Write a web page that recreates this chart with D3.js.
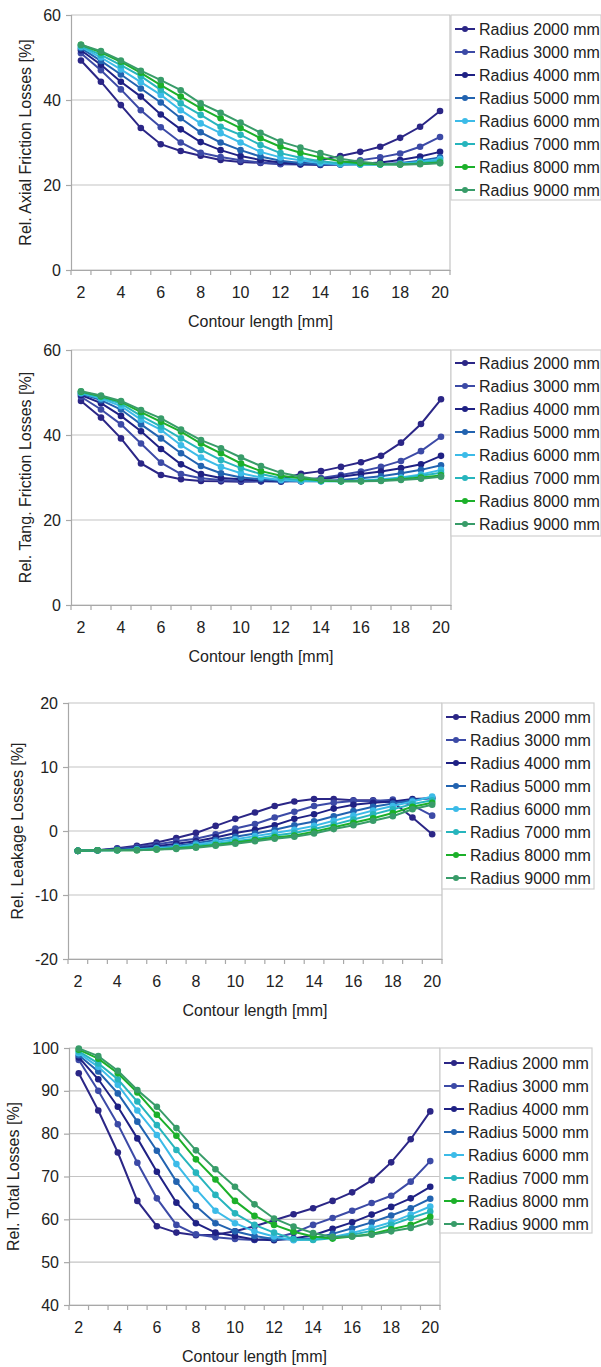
<!DOCTYPE html>
<html>
<head>
<meta charset="utf-8">
<script src="https://cdn.jsdelivr.net/npm/d3@7"></script>
<style>
  body { margin: 0; background: #fff; }
  svg { display: block; font-family: "Liberation Sans", Arial, sans-serif; }
  .tick text { font-size: 16px; fill: #222; }
  .axis-label { font-size: 16px; fill: #222; }
  .legend text { font-size: 16px; fill: #222; }
</style>
</head>
<body>
<svg width="601" height="1367"></svg>
<script>
// contour length [mm] categories
const contourLengths = [2, 3, 4, 5, 6, 7, 8, 9, 10, 11, 12, 13, 14, 15, 16, 17, 18, 19, 20]
const radii = ['Radius 2000 mm', 'Radius 3000 mm', 'Radius 4000 mm', 'Radius 5000 mm',
  'Radius 6000 mm', 'Radius 7000 mm', 'Radius 8000 mm', 'Radius 9000 mm']
const colors = ['#2b2686', '#3c4aa6', '#1f2184', '#2263b0', '#3cbbe8', '#27b5bd', '#1cb02a', '#389c69']

// one row per radius
const axialFriction = [
  [49.3, 44.3, 38.8, 33.4, 29.6, 28.0, 26.9, 25.9, 25.4, 25.2, 25.0, 25.3, 25.8, 26.8, 27.8, 29.0, 31.1, 33.7, 37.4],
  [51.0, 47.0, 42.5, 37.6, 33.6, 30.0, 27.6, 26.6, 25.8, 25.3, 24.9, 24.8, 24.9, 25.2, 25.8, 26.5, 27.4, 29.0, 31.3],
  [51.7, 48.3, 44.3, 40.8, 36.6, 33.1, 30.1, 28.2, 26.8, 25.9, 25.3, 24.9, 24.7, 24.8, 25.0, 25.3, 25.9, 26.7, 27.8],
  [52.2, 49.2, 46.0, 42.7, 39.4, 35.7, 32.4, 30.0, 28.2, 26.7, 25.7, 25.2, 24.9, 24.8, 24.8, 24.9, 25.2, 25.7, 26.5],
  [52.5, 50.0, 47.2, 44.2, 41.2, 37.6, 34.5, 32.2, 30.0, 27.8, 26.5, 25.8, 25.2, 24.9, 24.8, 24.8, 25.0, 25.4, 26.1],
  [52.7, 50.6, 48.2, 45.6, 42.4, 39.2, 36.5, 33.7, 31.8, 29.4, 27.5, 26.4, 25.6, 25.1, 24.9, 24.8, 24.9, 25.2, 25.7],
  [53.0, 51.2, 49.0, 46.4, 43.5, 40.8, 38.1, 35.7, 33.4, 31.0, 29.0, 27.6, 26.5, 25.6, 25.1, 24.9, 24.8, 25.0, 25.3],
  [53.0, 51.5, 49.3, 46.9, 44.7, 42.3, 39.2, 37.0, 34.7, 32.3, 30.2, 28.8, 27.5, 26.2, 25.5, 25.0, 24.8, 24.9, 25.1]
]
const tangFriction = [
  [48.0, 44.1, 39.2, 33.3, 30.6, 29.6, 29.2, 29.1, 29.0, 29.1, 29.6, 30.9, 31.5, 32.5, 33.6, 35.1, 38.2, 42.6, 48.4],
  [49.0, 46.0, 42.5, 38.0, 33.5, 30.8, 29.8, 29.4, 29.2, 29.1, 29.0, 29.4, 29.9, 30.6, 31.4, 32.5, 33.9, 36.2, 39.6],
  [49.4, 47.5, 44.5, 40.9, 36.7, 33.1, 30.8, 29.9, 29.6, 29.3, 29.1, 29.1, 29.6, 30.2, 30.8, 31.4, 32.2, 33.1, 35.1],
  [49.7, 48.2, 46.0, 42.5, 39.2, 35.7, 32.7, 31.0, 30.0, 29.6, 29.2, 29.1, 29.1, 29.4, 29.8, 30.3, 31.0, 31.8, 32.9],
  [49.9, 48.6, 46.8, 43.6, 41.2, 37.6, 34.7, 32.5, 31.0, 30.0, 29.4, 29.2, 29.1, 29.1, 29.3, 29.6, 30.0, 30.7, 31.8],
  [50.0, 48.9, 47.4, 44.5, 42.0, 39.2, 36.5, 34.1, 32.2, 30.8, 29.8, 29.4, 29.2, 29.1, 29.2, 29.4, 29.8, 30.4, 31.1],
  [50.2, 49.1, 47.8, 45.4, 43.1, 40.8, 38.0, 35.7, 33.3, 31.5, 30.4, 29.8, 29.3, 29.1, 29.1, 29.3, 29.6, 30.0, 30.5],
  [50.3, 49.3, 48.0, 45.9, 43.9, 41.3, 38.8, 36.9, 34.7, 32.7, 31.1, 30.2, 29.5, 29.2, 29.1, 29.2, 29.4, 29.7, 30.2]
]
const leakage = [
  [-3.1, -3.0, -2.7, -2.3, -1.8, -1.1, -0.3, 0.8, 1.9, 2.9, 3.9, 4.6, 5.0, 5.0, 4.8, 4.8, 4.5, 2.1, -0.5],
  [-3.1, -3.0, -2.8, -2.5, -2.1, -1.6, -1.2, -0.5, 0.4, 1.1, 2.1, 3.0, 3.9, 4.4, 4.7, 4.7, 4.9, 4.0, 2.4],
  [-3.1, -3.0, -2.9, -2.7, -2.4, -2.0, -1.6, -1.0, -0.3, 0.2, 0.9, 1.9, 2.6, 3.5, 4.1, 4.4, 4.6, 5.0, 5.1],
  [-3.1, -3.0, -2.9, -2.8, -2.6, -2.3, -1.9, -1.4, -0.9, -0.4, 0.2, 0.9, 1.5, 2.3, 3.1, 3.8, 4.3, 4.8, 5.2],
  [-3.1, -3.0, -3.0, -2.9, -2.7, -2.5, -2.1, -1.7, -1.3, -0.8, -0.3, 0.2, 0.8, 1.6, 2.4, 3.2, 3.9, 4.6, 5.4],
  [-3.1, -3.0, -3.0, -2.9, -2.8, -2.6, -2.3, -2.0, -1.6, -1.2, -0.7, -0.3, 0.3, 1.0, 1.8, 2.6, 3.4, 4.2, 4.8],
  [-3.1, -3.0, -3.0, -3.0, -2.9, -2.7, -2.5, -2.2, -1.8, -1.4, -1.0, -0.7, -0.1, 0.6, 1.3, 2.0, 2.8, 3.8, 4.4],
  [-3.1, -3.0, -3.0, -3.0, -2.9, -2.8, -2.6, -2.3, -2.0, -1.6, -1.2, -0.9, -0.4, 0.3, 0.9, 1.6, 2.3, 3.4, 4.1]
]
const totalLosses = [
  [94.1, 85.4, 75.6, 64.3, 58.4, 56.9, 56.3, 56.4, 57.2, 58.4, 59.8, 61.2, 62.6, 64.3, 66.3, 69.1, 73.3, 78.7, 85.2],
  [97.2, 90.0, 82.2, 73.2, 64.9, 58.7, 56.5, 55.8, 55.4, 55.2, 55.6, 56.8, 58.7, 60.3, 62.0, 63.8, 65.5, 68.8, 73.6],
  [97.8, 92.7, 86.3, 78.9, 71.1, 63.9, 59.1, 56.9, 56.1, 55.3, 55.1, 55.5, 56.3, 57.8, 59.3, 61.1, 62.9, 64.9, 67.6],
  [98.3, 94.5, 89.4, 82.8, 76.0, 68.8, 63.1, 59.1, 57.2, 56.1, 55.4, 55.3, 55.6, 56.6, 57.9, 59.3, 60.9, 62.6, 64.8],
  [98.8, 95.6, 91.4, 85.4, 79.7, 72.9, 67.1, 62.0, 59.1, 57.2, 56.0, 55.1, 55.3, 55.9, 56.8, 58.0, 59.3, 61.1, 63.0],
  [99.2, 96.4, 92.7, 87.5, 82.0, 76.2, 70.9, 65.7, 61.4, 58.7, 56.9, 55.4, 55.2, 55.6, 56.4, 57.3, 58.7, 60.3, 61.8],
  [99.6, 97.5, 94.1, 89.6, 84.4, 79.5, 74.0, 69.3, 64.3, 60.8, 58.7, 57.1, 56.0, 55.5, 56.0, 56.6, 57.7, 58.7, 60.6],
  [99.9, 98.1, 94.7, 90.2, 86.3, 81.3, 76.1, 71.7, 67.6, 63.5, 60.2, 58.3, 56.8, 55.9, 56.0, 56.4, 57.2, 58.0, 59.3]
]

const xTickLabels = [2, 4, 6, 8, 10, 12, 14, 16, 18, 20]
const axialTicks = [0, 20, 40, 60]
const tangTicks = [0, 20, 40, 60]
const leakageTicks = [-20, -10, 0, 10, 20]
const totalTicks = [40, 50, 60, 70, 80, 90, 100]

const svg = d3.select('svg')

const panels = [
  {title: 'Rel. Axial Friction Losses [%]', data: axialFriction, ticks: axialTicks,
    left: 71, right: 450, top: 15, bottom: 270, titleX: 25, legend: {x: 451, y: 15, w: 150, h: 185, first: 14}},
  {title: 'Rel. Tang. Friction Losses [%]', data: tangFriction, ticks: tangTicks,
    left: 71, right: 451, top: 350, bottom: 605, titleX: 25, legend: {x: 451, y: 350, w: 150, h: 186, first: 13}},
  {title: 'Rel. Leakage Losses [%]', data: leakage, ticks: leakageTicks,
    left: 68, right: 442, top: 703, bottom: 959, titleX: 17, legend: {x: 442, y: 703, w: 152, h: 186, first: 14}},
  {title: 'Rel. Total Losses [%]', data: totalLosses, ticks: totalTicks,
    left: 69, right: 440, top: 1048, bottom: 1305, titleX: 13, legend: {x: 440, y: 1048, w: 152, h: 185, first: 15}}
]

const render = p => {
  const xScale = d3.scaleBand()
    .domain(contourLengths)
    .range([p.left, p.right])
    .padding(0)
  const yScale = d3.scaleLinear()
    .domain(d3.extent(p.ticks))
    .range([p.bottom, p.top])

  const g = svg.append('g')

  // gridlines
  g.selectAll('.grid')
    .data(p.ticks)
    .enter().append('line')
    .attr('x1', p.left).attr('x2', p.right)
    .attr('y1', d => yScale(d)).attr('y2', d => yScale(d))
    .attr('stroke', '#c4c4c4').attr('stroke-width', 1.2)

  // right border
  g.append('line')
    .attr('x1', p.right).attr('x2', p.right)
    .attr('y1', p.top).attr('y2', p.bottom)
    .attr('stroke', '#c4c4c4').attr('stroke-width', 1.2)

  const yAxis = d3.axisLeft(yScale)
    .tickValues(p.ticks)
    .tickFormat(d => String(d))
    .tickSize(5).tickPadding(5)
  const yAxisG = g.append('g')
    .attr('transform', `translate(${p.left},0)`)
    .call(yAxis)
  yAxisG.selectAll('.domain, .tick line').attr('stroke', '#a8a8a8').attr('stroke-width', 1.2)

  const xAxis = d3.axisBottom(xScale).tickValues(xTickLabels).tickSize(0).tickPadding(17)
  const xAxisG = g.append('g')
    .attr('transform', `translate(0,${p.bottom})`)
    .call(xAxis)
  xAxisG.select('.domain').attr('stroke', '#a8a8a8').attr('stroke-width', 1.2)

  // category boundary ticks
  const bounds = contourLengths.map(d => xScale(d)).concat([xScale.range()[1]])
  xAxisG.selectAll('.btick')
    .data(bounds)
    .enter().append('line')
    .attr('x1', d => d).attr('x2', d => d)
    .attr('y1', 0).attr('y2', 5)
    .attr('stroke', '#a8a8a8').attr('stroke-width', 1.2)

  xAxisG.append('text')
    .attr('class', 'axis-label')
    .attr('x', (p.left + p.right) / 2)
    .attr('y', 57)
    .attr('text-anchor', 'middle')
    .text('Contour length [mm]')

  g.append('text')
    .attr('class', 'axis-label')
    .attr('transform', `translate(${p.titleX},${(p.top + p.bottom) / 2}) rotate(-90)`)
    .attr('text-anchor', 'middle')
    .attr('dy', '0.35em')
    .text(p.title)

  const line = d3.line()
    .x((d, i) => xScale(contourLengths[i]) + xScale.bandwidth() / 2)
    .y(d => yScale(d))

  p.data.forEach((series, s) => {
    const sg = g.append('g')
    sg.append('path')
      .attr('d', line(series))
      .attr('fill', 'none')
      .attr('stroke', colors[s])
      .attr('stroke-width', 2)
    sg.selectAll('circle')
      .data(series)
      .enter().append('circle')
      .attr('cx', (d, i) => xScale(contourLengths[i]) + xScale.bandwidth() / 2)
      .attr('cy', d => yScale(d))
      .attr('r', 3.3)
      .attr('fill', colors[s])
  })

  // legend
  const L = p.legend
  const lg = g.append('g').attr('class', 'legend')
  lg.append('rect')
    .attr('x', L.x).attr('y', L.y).attr('width', L.w).attr('height', L.h)
    .attr('fill', '#fff').attr('stroke', '#d0d0d0').attr('stroke-width', 1.2)
  radii.forEach((name, s) => {
    const y = L.y + L.first + s * 23
    lg.append('line')
      .attr('x1', L.x + 4).attr('x2', L.x + 24)
      .attr('y1', y).attr('y2', y)
      .attr('stroke', colors[s]).attr('stroke-width', 2)
    lg.append('circle')
      .attr('cx', L.x + 14).attr('cy', y).attr('r', 3)
      .attr('fill', colors[s])
    lg.append('text')
      .attr('x', L.x + 28).attr('y', y)
      .attr('dy', '0.35em')
      .text(name)
  })
}

panels.forEach(render)
</script>
</body>
</html>
